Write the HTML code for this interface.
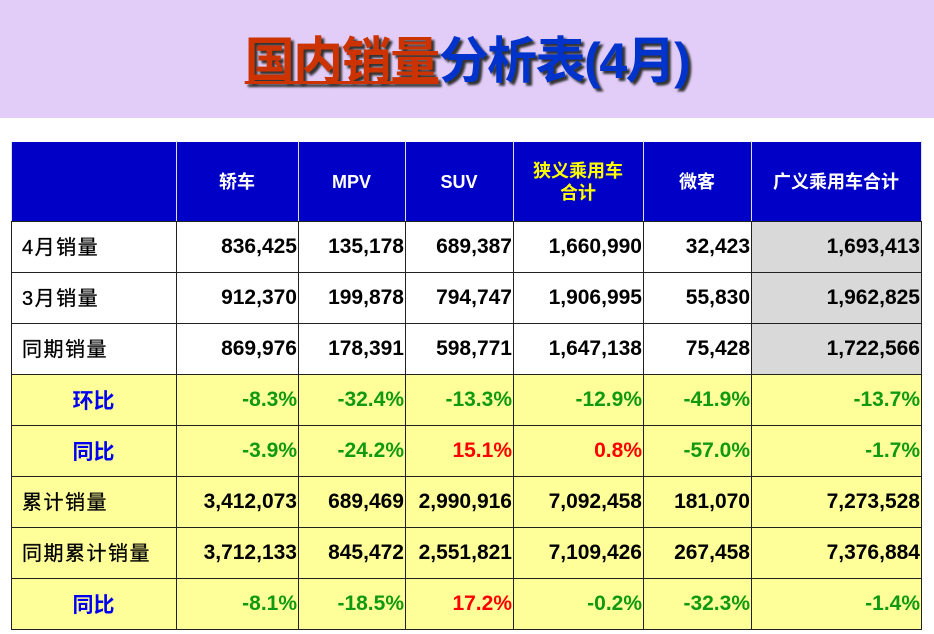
<!DOCTYPE html>
<html><head><meta charset="utf-8"><style>
body{margin:0;width:934px;height:634px;background:#fff;overflow:hidden;font-family:"Liberation Sans","Noto Sans CJK SC",sans-serif;position:relative}
.band{position:absolute;left:0;top:0;width:934px;height:118px;background:#e2cdf9}
.title{position:absolute;left:0;top:30px;width:934px;text-align:center;font-size:50px;font-weight:bold;line-height:62px;text-shadow:3px 3px 2px #333;letter-spacing:-1.5px}
.title .r{color:#cc3300;text-decoration:underline;text-decoration-thickness:3px;text-underline-offset:3px}
.title .b{color:#0033cc}
table{position:absolute;left:11px;top:141px;border-collapse:collapse;table-layout:fixed}
td{border:1.5px solid #222;height:50px;padding:0 1px 0 0;font-size:21px;font-weight:bold;text-align:right;color:#000;white-space:nowrap}
tr.h td{background:#0000c6;color:#fff;height:79px;text-align:center;font-size:18px;border-color:#fff #ddd #222 #ddd;line-height:22px}
td.l{text-align:left;padding-left:10px;font-weight:normal;font-size:20px;letter-spacing:1.5px;-webkit-text-stroke:0.3px #000}
td.l span{position:relative;top:-2px}
tr.y td{background:#ffff99;color:#119911}
tr.y td.l{color:#000}
tr.y td.c{color:#0000ee;font-weight:bold;text-align:center;padding-left:0;font-size:21px}
tr.y td.k{color:#000}
td.g{background:#d9d9d9}
tr.y td.red{color:#ff0000}
</style></head><body>
<div class="band"></div>
<div class="title"><span class="r">国内销量</span><span class="b">分析表(4月)</span></div>
<table>
<colgroup><col style="width:165px"><col style="width:122px"><col style="width:107px"><col style="width:108px"><col style="width:130px"><col style="width:108px"><col style="width:170px"></colgroup>
<tr class="h"><td></td><td>轿车</td><td>MPV</td><td>SUV</td><td style="color:#ffff00">狭义乘用车<br>合计</td><td>微客</td><td>广义乘用车合计</td></tr>
<tr><td class="l"><span>4月销量</span></td><td>836,425</td><td>135,178</td><td>689,387</td><td>1,660,990</td><td>32,423</td><td class="g">1,693,413</td></tr>
<tr><td class="l"><span>3月销量</span></td><td>912,370</td><td>199,878</td><td>794,747</td><td>1,906,995</td><td>55,830</td><td class="g">1,962,825</td></tr>
<tr><td class="l"><span>同期销量</span></td><td>869,976</td><td>178,391</td><td>598,771</td><td>1,647,138</td><td>75,428</td><td class="g">1,722,566</td></tr>
<tr class="y"><td class="c">环比</td><td>-8.3%</td><td>-32.4%</td><td>-13.3%</td><td>-12.9%</td><td>-41.9%</td><td>-13.7%</td></tr>
<tr class="y"><td class="c">同比</td><td>-3.9%</td><td>-24.2%</td><td class="red">15.1%</td><td class="red">0.8%</td><td>-57.0%</td><td>-1.7%</td></tr>
<tr class="y"><td class="l"><span>累计销量</span></td><td class="k">3,412,073</td><td class="k">689,469</td><td class="k">2,990,916</td><td class="k">7,092,458</td><td class="k">181,070</td><td class="k">7,273,528</td></tr>
<tr class="y"><td class="l"><span>同期累计销量</span></td><td class="k">3,712,133</td><td class="k">845,472</td><td class="k">2,551,821</td><td class="k">7,109,426</td><td class="k">267,458</td><td class="k">7,376,884</td></tr>
<tr class="y"><td class="c">同比</td><td>-8.1%</td><td>-18.5%</td><td class="red">17.2%</td><td>-0.2%</td><td>-32.3%</td><td>-1.4%</td></tr>
</table>
</body></html>
